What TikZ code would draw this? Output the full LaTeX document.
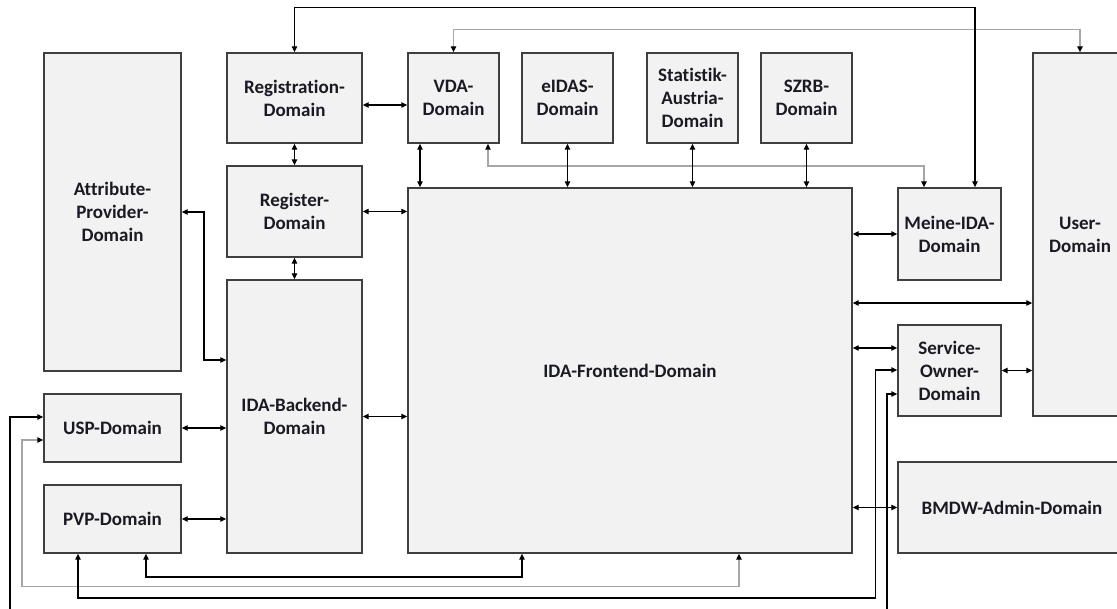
\documentclass[tikz,border=0pt]{standalone}
\usepackage{fontspec}
\setmainfont{Carlito}[Ligatures=NoCommon]
\usetikzlibrary{arrows.meta}
\definecolor{boxfill}{HTML}{F2F2F2}
\definecolor{boxdraw}{HTML}{3F3F3F}
\definecolor{conngray}{HTML}{A6A6A6}
\definecolor{txt}{HTML}{1A1A24}
\tikzset{
  dbox/.style={draw=boxdraw, fill=boxfill, line width=1.4pt, inner sep=0pt, align=center,
    font=\fontsize{19}{23}\selectfont\bfseries, text=txt},
  conn/.style={line width=1.2pt, draw=black,
    {Triangle[length=6pt,width=5.5pt]}-{Triangle[length=6pt,width=5.5pt]}},
  gconn/.style={line width=1.4pt, draw=conngray,
    {Triangle[length=6pt,width=5.5pt,color=black]}-{Triangle[length=6pt,width=5.5pt,color=black]}}
}
\begin{document}
\begin{tikzpicture}[x=1pt,y=-1pt]
\useasboundingbox (0,0) rectangle (1117,609);
\clip (0,0) rectangle (1117,609);
\fill[white] (0,0) rectangle (1117,609);
% boxes
\node[dbox, minimum width=137pt, minimum height=318pt] (attr) at (112.5,212) {Attribute-\\Provider-\\Domain};
\node[dbox, minimum width=135pt, minimum height=90pt] (regn) at (294.5,98) {Registration-\\Domain};
\node[dbox, minimum width=135pt, minimum height=91pt] (regr) at (294.5,211.5) {Register-\\Domain};
\node[dbox, minimum width=135pt, minimum height=273pt] (backend) at (294.5,416.5) {IDA-Backend-\\Domain};
\node[dbox, minimum width=91pt, minimum height=90pt] (vda) at (453.5,98) {VDA-\\Domain};
\node[dbox, minimum width=91pt, minimum height=90pt] (eidas) at (567.5,98) {eIDAS-\\Domain};
\node[dbox, minimum width=91pt, minimum height=90pt] (stat) at (692.5,98) {Statistik-\\Austria-\\Domain};
\node[dbox, minimum width=91pt, minimum height=90pt] (szrb) at (806.5,98) {SZRB-\\Domain};
\node[dbox, minimum width=444pt, minimum height=365pt] (front) at (630,370.5) {IDA-Frontend-Domain};
\node[dbox, minimum width=103pt, minimum height=92pt] (meine) at (949.5,234) {Meine-IDA-\\Domain};
\node[dbox, minimum width=94pt, minimum height=363pt] (user) at (1080,234.5) {User-\\Domain};
\node[dbox, minimum width=103pt, minimum height=91pt] (service) at (949.5,370.5) {Service-\\Owner-\\Domain};
\node[dbox, minimum width=228pt, minimum height=91pt] (bmdw) at (1012,507.5) {BMDW-Admin-Domain};
\node[dbox, minimum width=137pt, minimum height=68pt] (usp) at (112.5,428) {USP-Domain};
\node[dbox, minimum width=137pt, minimum height=68pt] (pvp) at (112.5,519) {PVP-Domain};
% gray connectors
\draw[gconn] (vda.north) |- (user.north |- 0,29.5) -- (user.north);
\draw[gconn] (vda.south -| 488,0) |- (924,166) -- (meine.north -| 924,0);
\draw[gconn] (usp.west |- 0,440) -- (22,440) |- (739,586.5) -- (front.south -| 739,0);
% black connectors
\draw[conn] (regn.north) |- (975,7.5) -- (meine.north -| 975,0);
\draw[conn] (regn.east |- 0,105) -- (vda.west |- 0,105);
\draw[conn] (regn.south) -- (regr.north);
\draw[conn] (regr.south) -- (backend.north);
\draw[conn] (regr.east) -- (front.west |- regr.east);
\draw[conn] (attr.east) -- (204,212) -- (204,360) -- (backend.west |- 0,360);
\draw[conn] (usp.east) -- (backend.west |- usp.east);
\draw[conn] (pvp.east) -- (backend.west |- pvp.east);
\draw[conn] (backend.east) -- (front.west |- backend.east);
\draw[conn] (vda.south -| 420,0) -- (front.north -| 420,0);
\draw[conn] (eidas.south) -- (front.north -| eidas.south);
\draw[conn] (stat.south) -- (front.north -| stat.south);
\draw[conn] (szrb.south) -- (front.north -| szrb.south);
\draw[conn] (front.east |- meine.west) -- (meine.west);
\draw[conn] (front.east |- 0,303) -- (user.west |- 0,303);
\draw[conn] (front.east |- 0,348) -- (service.west |- 0,348);
\draw[conn] (service.east) -- (user.west |- service.east);
\draw[conn] (front.east |- bmdw.west) -- (bmdw.west);
\draw[conn] (pvp.south -| 146,0) |- (522,577) -- (front.south -| 522,0);
\draw[conn] (pvp.south -| 78,0) -- (78,598) -- (875.5,598) -- (875.5,370) -- (service.west |- 0,370);
\draw[conn] (usp.west |- 0,417) -- (10,417) -- (10,640) -- (887,640) -- (887,394) -- (service.west |- 0,394);
\end{tikzpicture}
\end{document}
